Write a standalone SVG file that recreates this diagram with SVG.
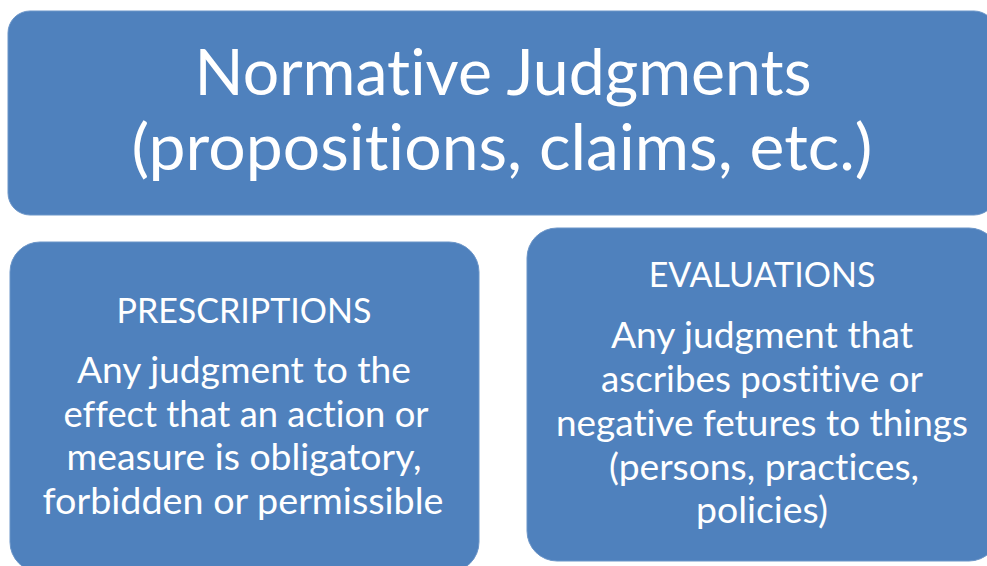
<svg xmlns="http://www.w3.org/2000/svg" width="987" height="566" viewBox="0 0 987 566">
  <style>
    .box { fill: #4f81bd; stroke: #6b95c8; stroke-width: 1; }
    .txt { fill: #ffffff; font-family: Lato, "Open Sans", "Liberation Sans", sans-serif; text-anchor: middle; font-variant-ligatures: none; }
    .title { font-size: 63px; }
    .head { font-size: 34px; }
    .body { font-size: 36px; }
  </style>
  <rect width="987" height="566" fill="#ffffff"/>

  <g id="normative-judgments">
    <rect class="box" x="8" y="11" width="988" height="204" rx="22" ry="22"/>
    <text class="txt title" x="503" y="95" textLength="617" lengthAdjust="spacingAndGlyphs">Normative Judgments</text>
    <text class="txt title" x="502" y="170" textLength="741" lengthAdjust="spacingAndGlyphs">(propositions, claims, etc.)</text>
  </g>

  <g id="prescriptions">
    <rect class="box" x="10" y="242" width="469" height="330" rx="30" ry="30"/>
    <text class="txt head" x="244" y="323">PRESCRIPTIONS</text>
    <text class="txt body" x="244" y="383" textLength="334" lengthAdjust="spacingAndGlyphs">Any judgment to the</text>
    <text class="txt body" x="246" y="427" textLength="365" lengthAdjust="spacingAndGlyphs">effect that an action or</text>
    <text class="txt body" x="244" y="470" textLength="355" lengthAdjust="spacingAndGlyphs">measure is obligatory,</text>
    <text class="txt body" x="243" y="514" textLength="401" lengthAdjust="spacingAndGlyphs">forbidden or permissible</text>
  </g>

  <g id="evaluations">
    <rect class="box" x="527" y="228" width="472" height="333" rx="30" ry="30"/>
    <text class="txt head" x="762" y="287">EVALUATIONS</text>
    <text class="txt body" x="762" y="348" textLength="302" lengthAdjust="spacingAndGlyphs">Any judgment that</text>
    <text class="txt body" x="762" y="392" textLength="322" lengthAdjust="spacingAndGlyphs">ascribes postitive or</text>
    <text class="txt body" x="762" y="436" textLength="412" lengthAdjust="spacingAndGlyphs">negative fetures to things</text>
    <text class="txt body" x="764" y="480" textLength="310" lengthAdjust="spacingAndGlyphs">(persons, practices,</text>
    <text class="txt body" x="762" y="523" textLength="132" lengthAdjust="spacingAndGlyphs">policies)</text>
  </g>

  <g id="connectors"></g>
</svg>
